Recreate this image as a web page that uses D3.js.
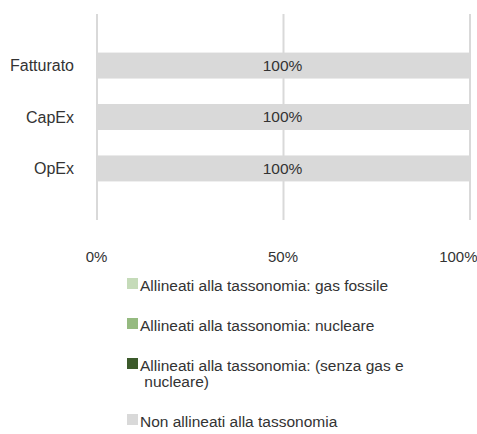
<!DOCTYPE html>
<html>
<head>
<meta charset="utf-8">
<script src="https://cdn.jsdelivr.net/npm/d3@7"></script>
<style>
  body { margin: 0; background: #fff; }
  text { font-family: "Liberation Sans", Arial, sans-serif; fill: #333; }
</style>
</head>
<body>
<div id="chart"></div>
<script>
var width = 477,
    height = 434;

// data
var categories = ["Fatturato", "CapEx", "OpEx"];
var gasFossile = [0, 0, 0];
var nucleare = [0, 0, 0];
var senzaGasNucleare = [0, 0, 0];
var nonAllineati = [1, 1, 1];
var tickValues = [0, 0.5, 1];
var seriesNames = [
  "Allineati alla tassonomia: gas fossile",
  "Allineati alla tassonomia: nucleare",
  "Allineati alla tassonomia: (senza gas e\n nucleare)",
  "Non allineati alla tassonomia"
];
var colors = ["#c5dbb9", "#95ba80", "#3c5a2b", "#d9d9d9"];

var rows = categories.map(function(c, i) {
  return { cat: c, s0: gasFossile[i], s1: nucleare[i], s2: senzaGasNucleare[i], s3: nonAllineati[i] };
});
var keys = ["s0", "s1", "s2", "s3"];
var stacked = d3.stack().keys(keys)(rows);

var svg = d3.select("#chart").append("svg")
    .attr("width", width)
    .attr("height", height);

var x = d3.scaleLinear().domain([0, 1]).range([96, 469]);
var y = d3.scaleBand().domain(categories).range([14, 220])
    .paddingInner(0.495).paddingOuter(0.75);

/* gridlines */
svg.selectAll("line.grid")
    .data(tickValues)
    .enter().append("line")
    .attr("class", "grid")
    .attr("x1", function(d){ return x(d) + 1 })
    .attr("x2", function(d){ return x(d) + 1 })
    .attr("y1", 14)
    .attr("y2", 220)
    .attr("stroke", "#d9d9d9")
    .attr("stroke-width", 2);

/* bars */
var layer = svg.selectAll("g.layer")
    .data(stacked)
    .enter().append("g")
    .attr("class", "layer")
    .attr("fill", function(d, i){ return colors[i] });

layer.selectAll("rect")
    .data(function(d){ return d })
    .enter().append("rect")
    .attr("x", function(d){ return x(d[0]) })
    .attr("width", function(d){ return x(d[1]) - x(d[0]) })
    .attr("y", function(d){ return y(d.data.cat) })
    .attr("height", y.bandwidth());

/* data labels (only non-zero segments) */
stacked.forEach(function(s) {
  svg.selectAll(null)
      .data(s.filter(function(d){ return d[1] - d[0] > 0 }))
      .enter().append("text")
      .attr("x", function(d){ return (x(d[0]) + x(d[1])) / 2 })
      .attr("y", function(d){ return y(d.data.cat) + y.bandwidth() / 2 })
      .attr("dy", "0.35em")
      .attr("text-anchor", "middle")
      .style("font-size", "15.5px")
      .text(function(d){ return d3.format(".0%")(d[1] - d[0]) });
});

/* category labels */
svg.selectAll("text.cat")
    .data(categories)
    .enter().append("text")
    .attr("class", "cat")
    .attr("x", 74)
    .attr("y", function(d){ return y(d) + y.bandwidth() / 2 })
    .attr("dy", "0.35em")
    .attr("text-anchor", "end")
    .style("font-size", "16px")
    .text(function(d){ return d });

/* x axis */
var axis = svg.append("g")
    .attr("transform", "translate(0,240)")
    .call(d3.axisBottom(x).tickValues(tickValues).tickSize(0).tickPadding(11)
      .tickFormat(d3.format(".0%")));
axis.select(".domain").remove();
axis.selectAll("text")
    .style("font-size", "15px")
    .style("font-family", "\"Liberation Sans\", Arial, sans-serif")
    .attr("fill", "#333");
axis.selectAll(".tick").filter(function(d){ return d === 1 }).select("text")
    .attr("text-anchor", "end")
    .attr("x", 8);

/* legend */
var legendY = [286, 326, 366, 422];
var legend = svg.selectAll("g.legend")
    .data(seriesNames)
    .enter().append("g")
    .attr("class", "legend")
    .attr("transform", function(d, i){ return "translate(127," + legendY[i] + ")" });

legend.append("rect")
    .attr("x", 0)
    .attr("y", -8)
    .attr("width", 11)
    .attr("height", 11)
    .attr("fill", function(d, i){ return colors[i] });

legend.append("text")
    .attr("x", 13)
    .attr("y", 0)
    .style("font-size", "15.5px")
    .style("white-space", "pre")
    .selectAll("tspan")
    .data(function(d){ return d.split("\n") })
    .enter().append("tspan")
    .attr("x", 13)
    .attr("dy", function(d, i){ return i === 0 ? "0.35em" : "16px" })
    .text(function(d){ return d });
</script>
</body>
</html>
